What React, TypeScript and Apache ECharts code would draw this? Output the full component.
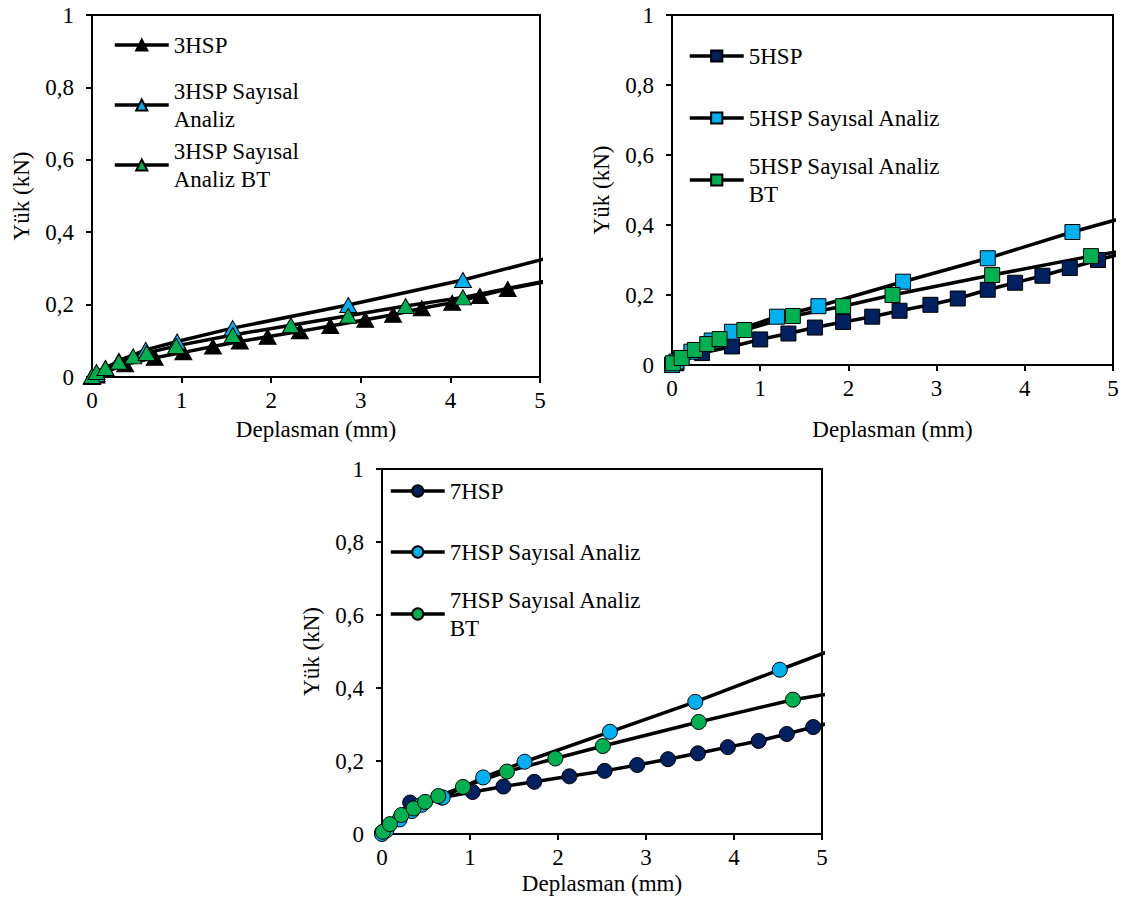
import React, { useEffect, useRef } from "react";
import * as echarts from "echarts";

// ---------- DATA ----------
const X_TICKS = [0, 1, 2, 3, 4, 5];
const Y_TICKS = [0, 0.2, 0.4, 0.6, 0.8, 1];

// Chart 1 (3HSP, triangles)
const X_3HSP = [0, 0.05, 0.37, 0.7, 1.02, 1.35, 1.65, 1.96, 2.32, 2.66, 3.05, 3.36, 3.68, 4.02, 4.33, 4.64, 5.3];
const Y_3HSP = [0, 0.004, 0.035, 0.053, 0.068, 0.084, 0.098, 0.111, 0.126, 0.141, 0.158, 0.172, 0.19, 0.205, 0.224, 0.243, 0.274];
const X_3HSP_SA = [0, 0.05, 0.15, 0.3, 0.6, 0.95, 1.57, 2.86, 4.14, 5.42];
const Y_3HSP_SA = [0, 0.008, 0.024, 0.045, 0.075, 0.098, 0.135, 0.199, 0.268, 0.35];
const X_3HSP_BT = [0, 0.05, 0.15, 0.3, 0.46, 0.61, 0.94, 1.57, 2.22, 2.86, 3.5, 4.14, 5.42];
const Y_3HSP_BT = [0.003, 0.014, 0.025, 0.042, 0.057, 0.066, 0.086, 0.116, 0.143, 0.169, 0.196, 0.22, 0.283];

// Chart 2 (5HSP, squares)
const X_5HSP = [0, 0.05, 0.34, 0.68, 1.0, 1.32, 1.62, 1.94, 2.27, 2.58, 2.93, 3.24, 3.58, 3.89, 4.2, 4.51, 4.83, 5.15];
const Y_5HSP = [0, 0.005, 0.034, 0.053, 0.073, 0.09, 0.107, 0.123, 0.138, 0.155, 0.172, 0.19, 0.215, 0.235, 0.255, 0.277, 0.3, 0.322];
const X_5HSP_SA = [0, 0.05, 0.1, 0.22, 0.45, 0.68, 1.19, 1.66, 2.62, 3.58, 4.54, 5.5];
const Y_5HSP_SA = [0, 0.01, 0.02, 0.038, 0.07, 0.095, 0.138, 0.168, 0.238, 0.305, 0.38, 0.447];
const X_5HSP_BT = [0.01, 0.11, 0.26, 0.4, 0.54, 0.82, 1.37, 1.94, 2.5, 3.63, 4.75, 5.87];
const Y_5HSP_BT = [0.005, 0.02, 0.043, 0.06, 0.074, 0.1, 0.14, 0.168, 0.2, 0.257, 0.311, 0.358];

// Chart 3 (7HSP, circles)
const X_7HSP = [0, 0.32, 0.68, 1.03, 1.38, 1.73, 2.13, 2.53, 2.9, 3.25, 3.59, 3.93, 4.28, 4.6, 4.9, 5.22];
const Y_7HSP = [0.004, 0.086, 0.1, 0.115, 0.13, 0.143, 0.158, 0.173, 0.189, 0.205, 0.221, 0.238, 0.255, 0.274, 0.293, 0.312];
const X_7HSP_SA = [0, 0.05, 0.2, 0.34, 0.45, 0.69, 1.15, 1.62, 2.59, 3.56, 4.52, 5.48];
const Y_7HSP_SA = [0, 0.01, 0.04, 0.063, 0.08, 0.1, 0.155, 0.198, 0.28, 0.362, 0.45, 0.538];
const X_7HSP_BT = [0.01, 0.09, 0.22, 0.36, 0.49, 0.64, 0.92, 1.42, 1.97, 2.51, 3.6, 4.67, 5.74];
const Y_7HSP_BT = [0.006, 0.027, 0.052, 0.07, 0.088, 0.104, 0.129, 0.171, 0.207, 0.241, 0.307, 0.368, 0.41];

const NAMES_3 = ["3HSP", "3HSP Sayısal Analiz", "3HSP Sayısal Analiz BT"];
const NAMES_5 = ["5HSP", "5HSP Sayısal Analiz", "5HSP Sayısal Analiz BT"];
const NAMES_7 = ["7HSP", "7HSP Sayısal Analiz", "7HSP Sayısal Analiz BT"];
const LEGEND_TEXT_3 = ["3HSP", "3HSP Sayısal\nAnaliz", "3HSP Sayısal\nAnaliz BT"];
const LEGEND_TEXT_5 = ["5HSP", "5HSP Sayısal Analiz", "5HSP Sayısal Analiz\nBT"];
const LEGEND_TEXT_7 = ["7HSP", "7HSP Sayısal Analiz", "7HSP Sayısal Analiz\nBT"];

const X_NAME = "Deplasman (mm)";
const Y_NAME = "Yük (kN)";

// ---------- STYLE ----------
const FONT = "Liberation Serif";
const FS = 23;
const LH = 28;
const NAVY = "#002060";
const LIGHT = "#00B0F0";
const GREEN = "#00B050";

const zip = (xs: number[], ys: number[]) => xs.map((x, i) => [x, ys[i]]);

export default function App() {
  const ref = useRef<HTMLDivElement>(null);

  useEffect(() => {
    if (!ref.current) return;
    const chart = echarts.init(ref.current, null, { renderer: "svg" });

    const grids = [
      { left: 92, top: 15, width: 448, height: 362 },
      { left: 672, top: 15, width: 441, height: 350 },
      { left: 382, top: 469, width: 440, height: 365 },
    ];
    const xNameGaps = [41, 53, 38];

    const xAxes = grids.map((_, i) => ({
      type: "value",
      gridIndex: i,
      min: X_TICKS[0],
      max: X_TICKS[X_TICKS.length - 1],
      interval: 1,
      name: X_NAME,
      nameLocation: "middle",
      nameGap: xNameGaps[i],
      nameTextStyle: { fontFamily: FONT, fontSize: FS, color: "#000" },
      axisLine: { show: true, onZero: false, lineStyle: { color: "#000", width: 2 } },
      axisTick: { show: true, inside: false, length: 6, lineStyle: { color: "#000", width: 2 } },
      axisLabel: { fontFamily: FONT, fontSize: FS, color: "#000", margin: 12 },
      splitLine: { show: false },
    }));

    const yAxes = grids.map((_, i) => ({
      type: "value",
      gridIndex: i,
      min: Y_TICKS[0],
      max: Y_TICKS[Y_TICKS.length - 1],
      interval: 0.2,
      name: Y_NAME,
      nameLocation: "middle",
      nameGap: 59,
      nameTextStyle: { fontFamily: FONT, fontSize: FS, color: "#000" },
      axisLine: { show: true, onZero: false, lineStyle: { color: "#000", width: 2 } },
      axisTick: { show: true, inside: false, length: 6, lineStyle: { color: "#000", width: 2 } },
      axisLabel: {
        fontFamily: FONT,
        fontSize: FS,
        color: "#000",
        margin: 18,
        formatter: (v: number) => String(Math.round(v * 10) / 10).replace(".", ","),
      },
      splitLine: { show: false },
    }));

    const mk = (
      name: string,
      xs: number[],
      ys: number[],
      idx: number,
      symbol: string,
      color: string,
      size: number | number[]
    ) => ({
      type: "line",
      name,
      xAxisIndex: idx,
      yAxisIndex: idx,
      data: zip(xs, ys),
      clip: true,
      symbol,
      symbolSize: size,
      showAllSymbol: true,
      lineStyle: { color: "#000", width: 3.5 },
      itemStyle: { color, borderColor: "#000", borderWidth: 1 },
      emphasis: { disabled: true },
      z: 2,
    });

    const TRI = [17, 15];
    const SQ = 15;
    const CI = 15;
    const series = [
      mk(NAMES_3[0], X_3HSP, Y_3HSP, 0, "triangle", "#000", TRI),
      mk(NAMES_3[1], X_3HSP_SA, Y_3HSP_SA, 0, "triangle", LIGHT, TRI),
      mk(NAMES_3[2], X_3HSP_BT, Y_3HSP_BT, 0, "triangle", GREEN, TRI),
      mk(NAMES_5[0], X_5HSP, Y_5HSP, 1, "rect", NAVY, SQ),
      mk(NAMES_5[1], X_5HSP_SA, Y_5HSP_SA, 1, "rect", LIGHT, SQ),
      mk(NAMES_5[2], X_5HSP_BT, Y_5HSP_BT, 1, "rect", GREEN, SQ),
      mk(NAMES_7[0], X_7HSP, Y_7HSP, 2, "circle", NAVY, CI),
      mk(NAMES_7[1], X_7HSP_SA, Y_7HSP_SA, 2, "circle", LIGHT, CI),
      mk(NAMES_7[2], X_7HSP_BT, Y_7HSP_BT, 2, "circle", GREEN, CI),
    ];

    const legendItem = (name: string, text: string, left: number, iconCenter: number) => {
      const two = text.indexOf("\n") >= 0;
      return {
        data: [name],
        left,
        top: iconCenter - (two ? LH * 1.5 : LH / 2),
        orient: "vertical",
        itemWidth: 54,
        itemHeight: 14,
        padding: 0,
        selectedMode: false,
        lineStyle: { width: 3.5, color: "#000" },
        formatter: () => text,
        textStyle: {
          fontFamily: FONT,
          fontSize: FS,
          color: "#000",
          lineHeight: LH,
          padding: two ? [LH, 0, 0, 0] : 0,
        },
      };
    };

    const legends = [
      legendItem(NAMES_3[0], LEGEND_TEXT_3[0], 113, 45),
      legendItem(NAMES_3[1], LEGEND_TEXT_3[1], 113, 105),
      legendItem(NAMES_3[2], LEGEND_TEXT_3[2], 113, 165),
      legendItem(NAMES_5[0], LEGEND_TEXT_5[0], 688, 56),
      legendItem(NAMES_5[1], LEGEND_TEXT_5[1], 688, 118),
      legendItem(NAMES_5[2], LEGEND_TEXT_5[2], 688, 180),
      legendItem(NAMES_7[0], LEGEND_TEXT_7[0], 389, 491),
      legendItem(NAMES_7[1], LEGEND_TEXT_7[1], 389, 552),
      legendItem(NAMES_7[2], LEGEND_TEXT_7[2], 389, 614),
    ];

    chart.setOption({
      animation: false,
      backgroundColor: "#fff",
      grid: grids.map((g) => ({ ...g, show: true, borderColor: "#000", borderWidth: 2, backgroundColor: "transparent" })),
      xAxis: xAxes,
      yAxis: yAxes,
      legend: legends,
      series,
    } as any);

    return () => chart.dispose();
  }, []);

  return (
    <div
      ref={ref}
      style={{ position: "absolute", left: 0, top: 0, width: 1126, height: 899, background: "#fff" }}
    />
  );
}
